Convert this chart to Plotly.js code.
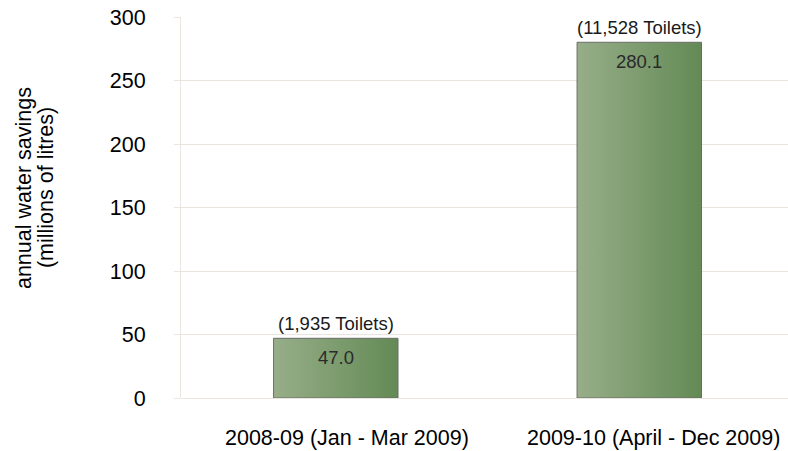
<!DOCTYPE html>
<html>
<head>
<meta charset="utf-8">
<script src="https://cdn.plot.ly/plotly-3.0.1.min.js"></script>
<style>html,body{margin:0;padding:0;background:#fff}</style>
</head>
<body>
<div id="chart" style="width:788px;height:451px"></div>
<script>
const categories = ["2008-09 (Jan - Mar 2009)", "2009-10 (April - Dec 2009)"];
const savings = [47.0, 280.1];
const toiletLabels = ["(1,935 Toilets)", "(11,528 Toilets)"];
const yTickVals = [0, 50, 100, 150, 200, 250, 300];
const titleLines = ["annual water savings", "(millions of litres)"];

const FONT = "Liberation Sans, Arial, Helvetica, sans-serif";
const gridCol = "#ebe5df";
const labelShift = [11, 14];

const trace = {
  type: "bar",
  x: categories,
  y: savings,
  width: 0.41,
  marker: {color: "#7e9c6e", line: {color: "#6b6b6b", width: 1}},
  hoverinfo: "none"
};

const annotations = [];
categories.forEach((c, i) => {
  annotations.push({
    x: c, y: savings[i], xref: "x", yref: "y",
    text: savings[i].toFixed(1), showarrow: false,
    yanchor: "top", yshift: -7,
    font: {family: FONT, size: 18.5, color: "#2a2a2a"}
  });
  annotations.push({
    x: c, y: savings[i], xref: "x", yref: "y",
    text: toiletLabels[i], showarrow: false,
    yanchor: "bottom", yshift: 2,
    font: {family: FONT, size: 18.5, color: "#1a1a1a"}
  });
  annotations.push({
    x: c, y: 0, xref: "x", yref: "y",
    text: c, showarrow: false,
    yanchor: "top", yshift: -26, xshift: labelShift[i],
    font: {family: FONT, size: 21.5, color: "#000"}
  });
});
titleLines.forEach((t, i) => {
  annotations.push({
    xref: "paper", yref: "paper",
    x: (i === 0 ? (24 - 181) : (46 - 181)) / 607, y: 0.551,
    xanchor: "center", yanchor: "middle",
    text: t, textangle: -90, showarrow: false,
    font: {family: FONT, size: 21.5, color: "#000"}
  });
});

const layout = {
  width: 788, height: 451,
  margin: {l: 181, r: 0, t: 17, b: 53, pad: 0},
  paper_bgcolor: "#fff", plot_bgcolor: "#fff",
  showlegend: false,
  font: {family: FONT, color: "#000"},
  xaxis: {
    range: [-0.51, 1.49],
    showgrid: false, zeroline: false,
    showline: false, ticks: "",
    showticklabels: false
  },
  yaxis: {
    range: [0, 300],
    tickvals: yTickVals,
    showgrid: true, gridcolor: gridCol, gridwidth: 1,
    zeroline: true, zerolinecolor: gridCol, zerolinewidth: 1,
    showline: true, linecolor: gridCol, linewidth: 1,
    ticks: "outside", ticklen: 6, tickcolor: gridCol, tickwidth: 1,
    tickfont: {family: FONT, size: 21.5, color: "#000"},
    ticklabelstandoff: 24
  },
  annotations: annotations
};

function applyGradient() {
  const gd = document.getElementById("chart");
  const svg = gd.querySelector("svg.main-svg");
  if (!svg) return;
  let defs = svg.querySelector("defs");
  if (!defs) { defs = document.createElementNS("http://www.w3.org/2000/svg", "defs"); svg.insertBefore(defs, svg.firstChild); }
  if (!svg.querySelector("#barGrad")) {
    const ns = "http://www.w3.org/2000/svg";
    const g = document.createElementNS(ns, "linearGradient");
    g.setAttribute("id", "barGrad");
    g.setAttribute("x1", "0"); g.setAttribute("y1", "0");
    g.setAttribute("x2", "1"); g.setAttribute("y2", "0");
    [["0", "#97ae89"], ["1", "#638a55"]].forEach(([o, c]) => {
      const s = document.createElementNS(ns, "stop");
      s.setAttribute("offset", o); s.setAttribute("stop-color", c);
      g.appendChild(s);
    });
    defs.appendChild(g);
  }
  gd.querySelectorAll(".barlayer .point path").forEach(p => {
    p.style.fill = "url(#barGrad)";
  });
}

Plotly.newPlot("chart", [trace], layout, {displayModeBar: false, staticPlot: true}).then(applyGradient);
document.getElementById("chart").on && document.getElementById("chart").on("plotly_afterplot", applyGradient);
</script>
</body>
</html>
